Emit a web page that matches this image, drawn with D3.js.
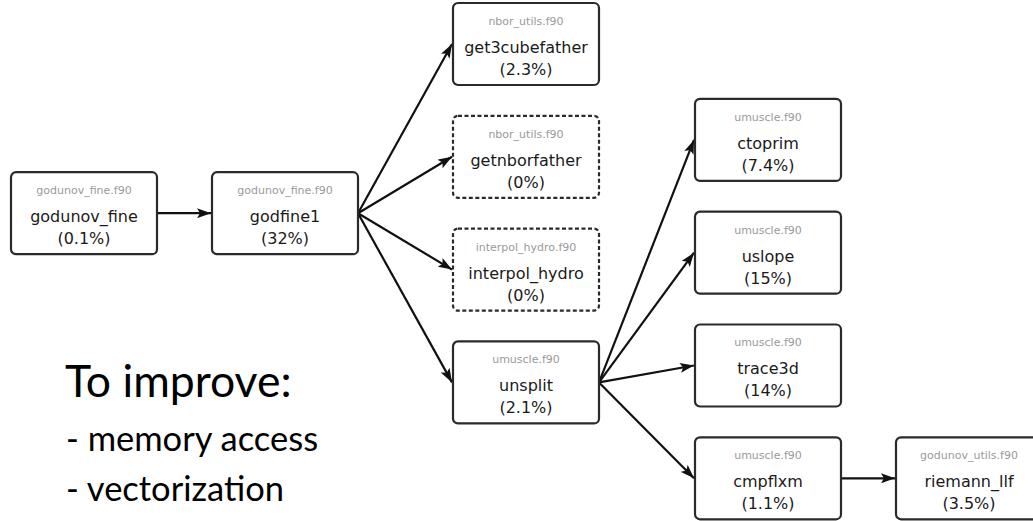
<!DOCTYPE html>
<html>
<head>
<meta charset="utf-8">
<script src="https://cdn.jsdelivr.net/npm/d3@7"></script>
<style>
  html, body { margin: 0; padding: 0; background: #fff; }
  svg { display: block; }
</style>
</head>
<body>
<svg id="chart" width="1033" height="521"></svg>
<script>
// ---- data ----
const nodeIds   = ["godunov_fine", "godfine1", "get3cubefather", "getnborfather", "interpol_hydro", "unsplit", "ctoprim", "uslope", "trace3d", "cmpflxm", "riemann_llf"];
const nodeFiles = ["godunov_fine.f90", "godunov_fine.f90", "nbor_utils.f90", "nbor_utils.f90", "interpol_hydro.f90", "umuscle.f90", "umuscle.f90", "umuscle.f90", "umuscle.f90", "umuscle.f90", "godunov_utils.f90"];
const nodePct   = [0.1, 32, 2.3, 0, 0, 2.1, 7.4, 15, 14, 1.1, 3.5];
// layout structure: rank (column) and slot (row) of each node
const nodeRank  = [0, 1, 2, 2, 2, 2, 3, 3, 3, 3, 4];
const nodeSlot  = [1.5, 1.5, 0, 1, 2, 3, 0.85, 1.85, 2.85, 3.85, 3.85];
const edgeFrom  = ["godunov_fine", "godfine1", "godfine1", "godfine1", "godfine1", "unsplit", "unsplit", "unsplit", "unsplit", "cmpflxm"];
const edgeTo    = ["godfine1", "get3cubefather", "getnborfather", "interpol_hydro", "unsplit", "ctoprim", "uslope", "trace3d", "cmpflxm", "riemann_llf"];
const noteTitle = "To improve:";
const noteItems = ["- memory access", "- vectorization"];

// ---- layout ----
const W = 1033, H = 521;
const boxW = 146, boxH = 82;
const x = d3.scaleLinear().domain([0, 1, 2, 3, 4]).range([11, 212, 453, 695, 896]);
const y = d3.scaleLinear().domain([0, 1]).range([3, 115.8]);

const nodes = nodeIds.map((id, i) => ({
  id, file: nodeFiles[i], pct: nodePct[i],
  x0: x(nodeRank[i]), y0: y(nodeSlot[i])
}));
const byId = new Map(nodes.map(n => [n.id, n]));

const svg = d3.select("#chart");
const defs = svg.append("defs");
defs.append("marker")
  .attr("id", "arrow")
  .attr("viewBox", "0 0 14 10")
  .attr("refX", 14).attr("refY", 5)
  .attr("markerWidth", 14).attr("markerHeight", 10)
  .attr("markerUnits", "userSpaceOnUse")
  .attr("orient", "auto")
  .append("path")
  .attr("d", "M0,0 L14,5 L0,10 L3,5 Z")
  .attr("fill", "#111");

// edges
const edges = edgeFrom.map((s, i) => ({ s: byId.get(s), t: byId.get(edgeTo[i]) }));
svg.append("g").selectAll("line").data(edges).join("line")
  .attr("x1", d => d.s.x0 + boxW)
  .attr("y1", d => d.s.y0 + boxH / 2)
  .attr("x2", d => d.t.x0 - 1)
  .attr("y2", d => d.t.y0 + boxH / 2)
  .attr("stroke", "#111")
  .attr("stroke-width", 2.2)
  .attr("marker-end", "url(#arrow)");

// nodes
const g = svg.append("g").selectAll("g").data(nodes).join("g")
  .attr("transform", d => `translate(${d.x0},${d.y0})`);
g.append("rect")
  .attr("width", boxW).attr("height", boxH)
  .attr("rx", 5).attr("ry", 5)
  .attr("fill", "#fff")
  .attr("stroke", "#2a2a2a")
  .attr("stroke-width", 2.2)
  .attr("stroke-dasharray", d => d.pct === 0 ? "4,2.5" : null);
g.append("text")
  .attr("x", boxW / 2).attr("y", 22)
  .attr("text-anchor", "middle")
  .attr("font-family", "DejaVu Sans")
  .attr("font-size", 11)
  .attr("fill", "#9a9a9a")
  .text(d => d.file);
g.append("text")
  .attr("x", boxW / 2).attr("y", 50)
  .attr("text-anchor", "middle")
  .attr("font-family", "DejaVu Sans")
  .attr("font-size", 16)
  .attr("fill", "#1a1a1a")
  .text(d => d.id);
g.append("text")
  .attr("x", boxW / 2).attr("y", 72)
  .attr("text-anchor", "middle")
  .attr("font-family", "DejaVu Sans")
  .attr("font-size", 16)
  .attr("fill", "#1a1a1a")
  .text(d => `(${d.pct}%)`);

// note
const note = svg.append("g").attr("font-family", "Lato").attr("fill", "#000");
note.append("text").attr("x", 65).attr("y", 397).attr("font-size", 44.5).text(noteTitle);
note.selectAll("text.item").data(noteItems).join("text")
  .attr("class", "item")
  .attr("x", 66)
  .attr("y", (d, i) => 451 + i * 50)
  .attr("font-size", 34.5)
  .text(d => d);
</script>
</body>
</html>
